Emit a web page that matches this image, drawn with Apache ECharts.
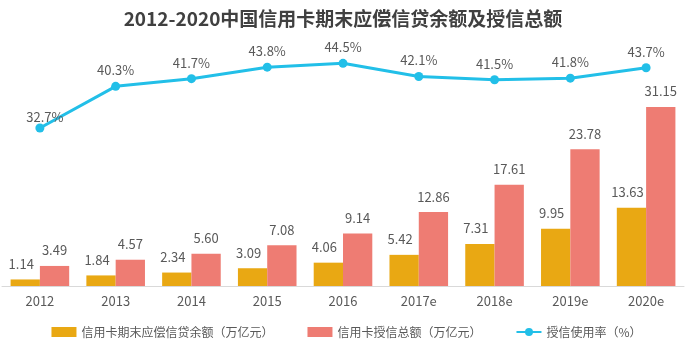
<!DOCTYPE html>
<html><head><meta charset="utf-8">
<script src="https://cdn.jsdelivr.net/npm/echarts@6/dist/echarts.min.js"></script>
<style>html,body{margin:0;padding:0;background:#fff}#c{width:693px;height:359px}</style>
</head><body><div id="c"></div>
<script>
const categories = ['2012','2013','2014','2015','2016','2017e','2018e','2019e','2020e'];
const balance = [1.14,1.84,2.34,3.09,4.06,5.42,7.31,9.95,13.63];
const totalCredit = [3.49,4.57,5.60,7.08,9.14,12.86,17.61,23.78,31.15];
const usageRate = [32.7,40.3,41.7,43.8,44.5,42.1,41.5,41.8,43.7];
const names = ['信用卡期末应偿信贷余额（万亿元）','信用卡授信总额（万亿元）','授信使用率（%）'];
const FONT = '"Noto Sans CJK SC", "Noto Sans", sans-serif';
const chart = echarts.init(document.getElementById('c'));
chart.setOption({
  animation:false,
  textStyle:{fontFamily:FONT},
  title:{text:'2012-2020中国信用卡期末应偿信贷余额及授信总额',left:338,textAlign:'center',top:4,
    textStyle:{fontSize:19,fontWeight:'bold',color:'#404040',fontFamily:FONT}},
  legend:{bottom:16,left:'center',itemGap:34,itemWidth:25,itemHeight:10,
    textStyle:{fontSize:12,color:'#595959',fontFamily:FONT},
    data:[{name:names[0],icon:'rect'},{name:names[1],icon:'rect'},{name:names[2]}]},
  grid:{left:2,right:9,top:36,bottom:73},
  xAxis:{type:'category',data:categories,
    axisLine:{lineStyle:{color:'#d9d9d9'}},axisTick:{show:false},
    axisLabel:{fontSize:13,color:'#595959',margin:9,fontFamily:FONT}},
  yAxis:[
    {type:'value',min:0,max:43.5,show:false,splitLine:{show:false}},
    {type:'value',min:3.87,max:49.49,show:false,splitLine:{show:false}}
  ],
  series:[
    {name:names[0],type:'bar',data:balance,barWidth:29.3,barGap:'0%',
      itemStyle:{color:'#E9A813'},
      label:{show:true,position:'top',distance:9,offset:[-4,0],fontSize:13,color:'#595959',formatter:p=>p.value.toFixed(2)}},
    {name:names[1],type:'bar',data:totalCredit,barWidth:29.3,
      itemStyle:{color:'#EE7C73'},
      label:{show:true,position:'top',distance:9,fontSize:13,color:'#595959',formatter:p=>p.value.toFixed(2)}},
    {name:names[2],type:'line',yAxisIndex:1,
      data:usageRate.map((v,i)=>i===0?{value:v,label:{offset:[5,5]}}:v),
      symbol:'circle',symbolSize:9,lineStyle:{width:3,color:'#22BFE8'},itemStyle:{color:'#22BFE8'},
      label:{show:true,position:'top',distance:5,fontSize:13,color:'#595959',formatter:p=>p.value.toFixed(1)+'%'}}
  ]
});
</script></body></html>
